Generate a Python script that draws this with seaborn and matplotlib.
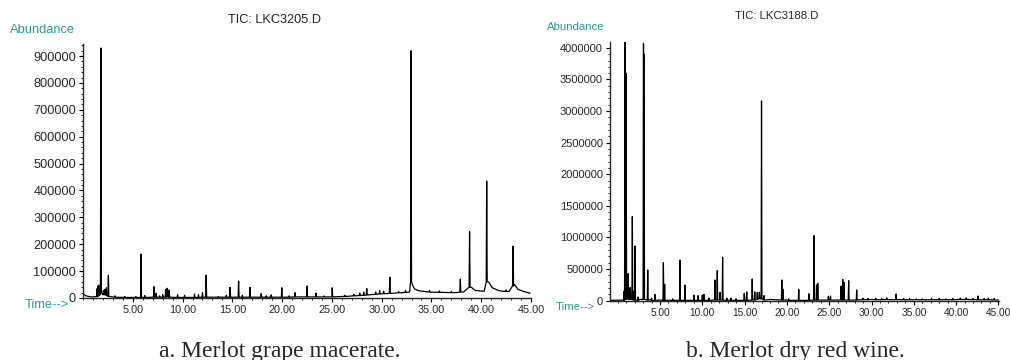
import numpy as np
import pandas as pd
import seaborn as sns
import matplotlib
matplotlib.use('Agg')
import matplotlib.pyplot as plt
from matplotlib.ticker import MultipleLocator, FormatStrFormatter

# a. Merlot grape macerate (TIC: LKC3205.D)
a_base_t = [0.05, 0.3, 0.8, 1.3, 2.0, 2.8, 4.0, 6.0, 8.0, 10.0, 13.0, 16.0, 19.0, 22.0, 25.0,
            26.5, 28.0, 30.0, 32.0, 32.8, 33.1, 33.3, 33.7, 34.5, 36.0, 37.5, 38.2, 39.0, 39.4,
            40.3, 40.75, 41.1, 41.8, 42.8, 43.35, 43.7, 44.3, 44.9]
a_base_y = [15000, 8000, 4000, 5000, 15000, 5000, 2000, 2000, 3000, 2000, 3000, 3000, 3000, 4000, 4000,
            6000, 10000, 16000, 20000, 22000, 48000, 34000, 27000, 23000, 21000, 20000, 22000, 40000, 28000,
            25000, 60000, 38000, 27000, 25000, 50000, 32000, 24000, 18000]
a_peak_t = [1.42, 1.5, 1.6, 1.7, 1.8, 2.05, 2.2, 2.35, 2.55, 3.2, 4.2, 5.3, 5.83, 6.2, 7.13, 7.35,
            7.7, 8.0, 8.3, 8.45, 8.65, 9.5, 10.2, 11.2, 11.6, 12.0, 12.37, 13.6, 14.4, 14.77, 15.63,
            16.0, 16.77, 17.9, 18.4, 18.9, 19.97, 20.7, 21.3, 22.5, 23.4, 24.2, 25.03, 26.3, 27.2,
            27.8, 28.2, 28.5, 29.4, 29.8, 30.2, 30.82, 31.7, 32.4, 32.95, 34.8, 35.8, 37.0, 37.9,
            38.83, 40.55, 42.5, 43.2]
a_peak_h = [35000, 45000, 48000, 30000, 930000, 28000, 32000, 38000, 85000, 8000, 6000, 6000, 163000,
            9000, 42000, 18000, 8000, 12000, 32000, 36000, 30000, 12000, 10000, 15000, 12000, 20000,
            85000, 6000, 10000, 40000, 63000, 10000, 40000, 16000, 8000, 12000, 38000, 8000, 20000,
            45000, 18000, 8000, 38000, 10000, 14000, 18000, 22000, 35000, 22000, 28000, 25000, 78000,
            25000, 28000, 920000, 28000, 26000, 24000, 70000, 247000, 435000, 30000, 193000]
a_peak_b = [5000, 8000, 10000, 12000, 20000, 12000, 12000, 10000, 6000, 3000, 2000, 2000, 2000, 2000,
            3000, 3000, 3000, 3000, 3000, 4000, 3000, 2000, 2000, 2000, 2000, 3000, 3000, 3000, 3000,
            3000, 3000, 3000, 3000, 3000, 3000, 3000, 3000, 3000, 4000, 4000, 4000, 4000, 4000, 6000,
            8000, 9000, 10000, 11000, 14000, 15000, 16000, 17000, 19000, 21000, 60000, 22000, 21000,
            20000, 22000, 40000, 60000, 24000, 45000]

# b. Merlot dry red wine (TIC: LKC3188.D)
b_base_t = [-0.85, 0.6, 2.6, 3.9, 5.0, 6.0, 9.0, 13.0, 16.0, 18.0, 20.0, 25.0, 28.5, 30.0, 33.0,
            37.0, 40.0, 43.0, 45.05]
b_base_y = [5000, 10000, 20000, 15000, 10000, 8000, 8000, 10000, 15000, 20000, 12000, 15000, 15000,
            20000, 18000, 15000, 18000, 15000, 10000]
b_peak_t = [0.75, 0.86, 1.0, 1.2, 1.35, 1.5, 1.73, 1.9, 2.05, 2.4, 3.05, 3.12, 3.55, 4.0, 4.4, 5.4,
            5.55, 6.5, 7.36, 7.95, 9.0, 9.5, 10.0, 10.2, 10.8, 11.5, 11.77, 12.1, 12.4, 12.9, 13.4,
            14.0, 14.96, 15.25, 15.9, 16.2, 16.5, 16.75, 17.0, 17.3, 19.4, 19.55, 20.2, 21.4, 22.6,
            23.2, 23.5, 23.65, 24.9, 25.15, 26.4, 26.6, 26.75, 27.3, 28.25, 29.0, 29.6, 30.5, 31.2,
            31.8, 32.9, 33.8, 34.5, 35.3, 36.0, 37.1, 38.0, 38.8, 39.6, 40.5, 41.2, 42.0, 42.6, 43.3,
            43.8, 44.5]
b_peak_h = [150000, 4100000, 3600000, 430000, 200000, 210000, 1330000, 150000, 866000, 60000, 4070000,
            3900000, 486000, 40000, 100000, 601000, 260000, 30000, 644000, 248000, 90000, 80000,
            90000, 100000, 40000, 328000, 475000, 130000, 687000, 40000, 40000, 30000, 117000, 140000,
            343000, 140000, 130000, 130000, 3160000, 80000, 328000, 180000, 30000, 180000, 110000,
            1030000, 250000, 275000, 70000, 74000, 233000, 338000, 290000, 316000, 170000, 40000,
            35000, 40000, 35000, 45000, 106000, 35000, 35000, 30000, 30000, 35000, 35000, 30000,
            35000, 40000, 45000, 35000, 74000, 35000, 40000, 35000]
b_peak_b = [5000, 20000, 20000, 30000, 20000, 20000, 15000, 10000, 10000, 5000, 20000, 20000, 10000,
            5000, 5000, 5000, 5000, 5000, 5000, 5000, 5000, 5000, 5000, 5000, 5000, 10000, 10000,
            10000, 10000, 5000, 5000, 5000, 5000, 5000, 10000, 10000, 20000, 30000, 30000, 10000,
            10000, 10000, 5000, 5000, 5000, 10000, 10000, 10000, 10000, 10000, 10000, 10000, 10000,
            10000, 10000, 15000, 15000, 15000, 15000, 18000, 15000, 15000, 15000, 15000, 15000,
            15000, 15000, 15000, 15000, 20000, 20000, 18000, 15000, 15000, 15000, 12000]

TEAL = '#2b9999'


def build_trace(base_t, base_y, pk_t, pk_h, pk_b, w=0.05):
    t = list(base_t)
    y = list(base_y)
    for pt, ph, pb in zip(pk_t, pk_h, pk_b):
        t += [pt - w, pt, pt + w]
        y += [pb, ph, pb]
    df = pd.DataFrame({'time': t, 'abundance': y})
    return df.sort_values('time', kind='stable').reset_index(drop=True)


dfa = build_trace(a_base_t, a_base_y, a_peak_t, a_peak_h, a_peak_b)
dfb = build_trace(b_base_t, b_base_y, b_peak_t, b_peak_h, b_peak_b)

sns.set_theme(style='ticks')
plt.rcParams['font.family'] = ['Liberation Sans', 'DejaVu Sans']

W, H = 1010, 360
fig = plt.figure(figsize=(W / 100, H / 100), dpi=100)


def px_axes(x0, x1, y0, y1):
    return fig.add_axes([x0 / W, 1 - y1 / H, (x1 - x0) / W, (y1 - y0) / H])


axa = px_axes(83, 531, 44, 298)
axb = px_axes(610, 999, 42, 300.7)

sns.lineplot(data=dfa, x='time', y='abundance', ax=axa, color='black', lw=0.9,
             estimator=None, sort=False)
sns.lineplot(data=dfb, x='time', y='abundance', ax=axb, color='black', lw=0.9,
             estimator=None, sort=False)

axa.set_xlim(0, 45)
axa.set_ylim(0, 945000)
axb.set_xlim(-0.91, 45.07)
axb.set_ylim(0, 4093000)

for ax, ymaj, ymin, ysize, xsize in [(axa, 100000, 20000, 9.2, 7.8), (axb, 500000, 100000, 8, 7.3)]:
    ax.set_xlabel('')
    ax.set_ylabel('')
    sns.despine(ax=ax)
    ax.spines['left'].set_linewidth(1.0)
    ax.spines['bottom'].set_linewidth(1.0)
    ax.xaxis.set_major_locator(MultipleLocator(5))
    ax.xaxis.set_minor_locator(MultipleLocator(1))
    ax.xaxis.set_major_formatter(FormatStrFormatter('%.2f'))
    ax.yaxis.set_major_locator(MultipleLocator(ymaj))
    ax.yaxis.set_minor_locator(MultipleLocator(ymin))
    ax.yaxis.set_major_formatter(FormatStrFormatter('%d'))
    ax.tick_params(which='major', length=3, width=0.8, pad=2, color='black')
    ax.tick_params(which='minor', length=1.5, width=0.6, color='black')
    ax.tick_params(axis='x', labelsize=xsize, pad=2)
    ax.tick_params(axis='y', labelsize=ysize, pad=2)
    ax.set_xticks([5, 10, 15, 20, 25, 30, 35, 40, 45])
    ax.patch.set_alpha(0)

# headers and axis captions
fig.text(275 / W, 1 - 20 / H, 'TIC: LKC3205.D', ha='center', va='center', fontsize=9.2)
fig.text(777 / W, 1 - 16 / H, 'TIC: LKC3188.D', ha='center', va='center', fontsize=8.2)
fig.text(10 / W, 1 - 30 / H, 'Abundance', ha='left', va='center', fontsize=9.3, color=TEAL)
fig.text(547 / W, 1 - 27 / H, 'Abundance', ha='left', va='center', fontsize=8.2, color=TEAL)
fig.text(25 / W, 1 - 305 / H, 'Time-->', ha='left', va='center', fontsize=9.3, color=TEAL)
fig.text(556 / W, 1 - 307 / H, 'Time-->', ha='left', va='center', fontsize=8.2, color=TEAL)

fig.text(280 / W, 1 - 357 / H, 'a. Merlot grape macerate.', ha='center', va='baseline',
         fontsize=17, family=['Liberation Serif', 'DejaVu Serif'])
fig.text(795 / W, 1 - 357 / H, 'b. Merlot dry red wine.', ha='center', va='baseline',
         fontsize=17, family=['Liberation Serif', 'DejaVu Serif'])

fig.savefig('out.png', dpi=100, facecolor='white')
